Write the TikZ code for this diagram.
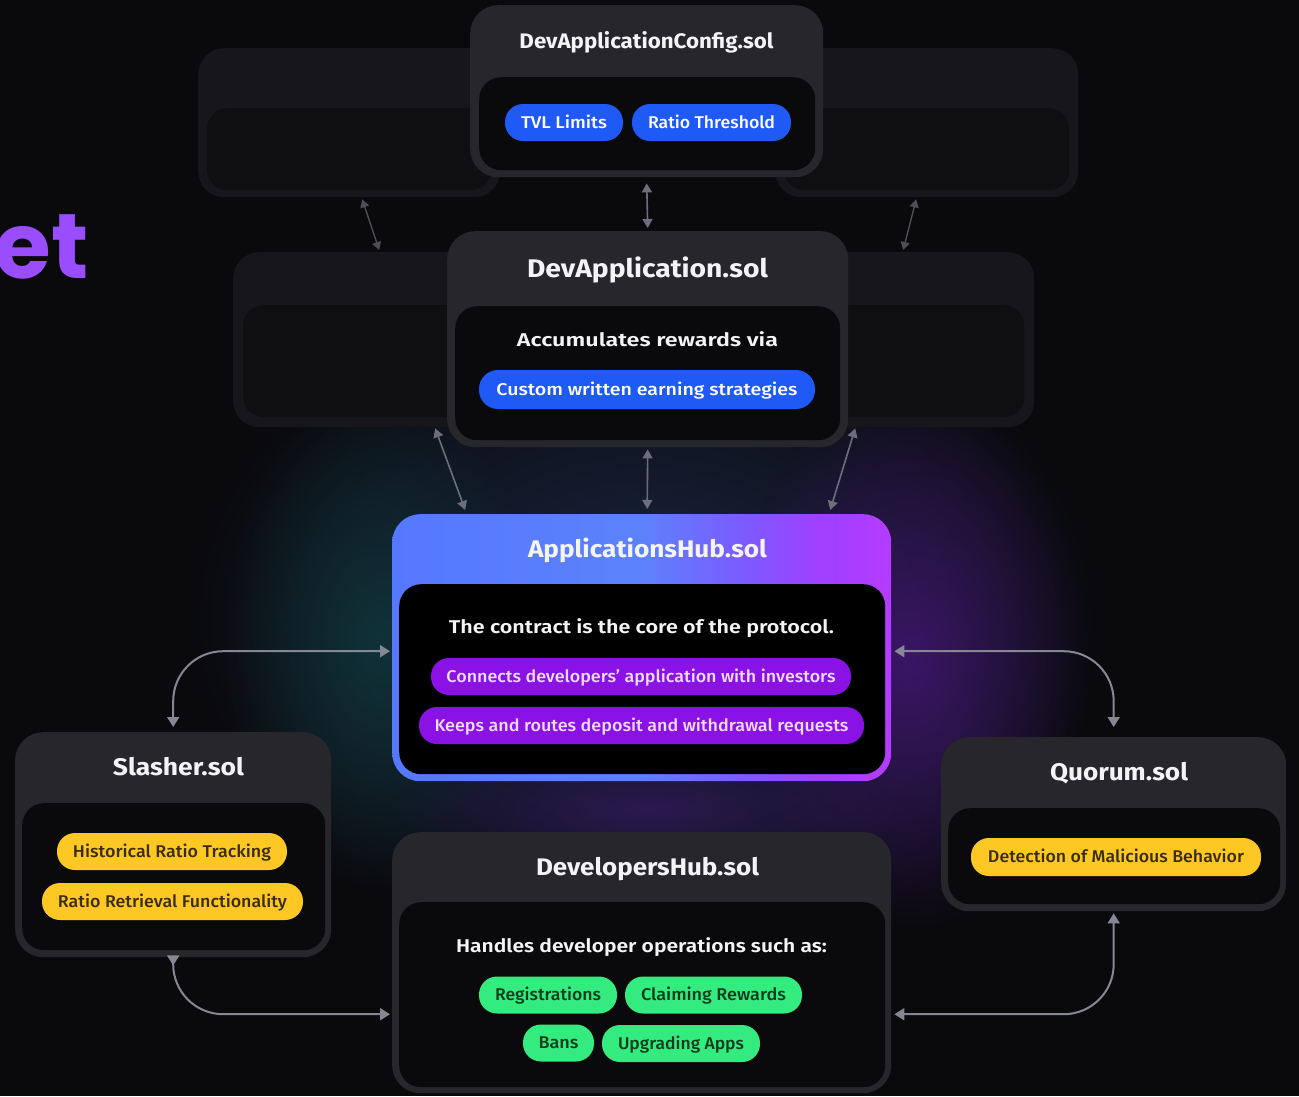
\documentclass[tikz,border=0pt]{standalone}
\usepackage{fontspec}
\setmainfont{Fira Sans}
\newfontfamily\titlefont{Fira Sans Bold}
\newfontfamily\semifont{Fira Sans SemiBold}
\newfontfamily\medfont{Fira Sans Medium}
\newfontfamily\bigfont{Poppins}
\usetikzlibrary{arrows.meta,fadings}

\definecolor{bg}{HTML}{0A0A0D}
\definecolor{cardhead}{HTML}{26262B}
\definecolor{cardbody}{HTML}{0A0A0C}
\definecolor{ghosthead}{HTML}{17171B}
\definecolor{ghostbody}{HTML}{0F0F12}
\definecolor{pillblue}{HTML}{1F5AF6}
\definecolor{pillpurple}{HTML}{8A12E4}
\definecolor{pillyellow}{HTML}{FDC823}
\definecolor{pillgreen}{HTML}{33EB7E}
\definecolor{yellowtext}{HTML}{3A2C05}
\definecolor{greentext}{HTML}{0B3A1C}
\definecolor{purpletext}{HTML}{F3DDFF}
\definecolor{titlewhite}{HTML}{F4F4F6}
\definecolor{arrowc}{HTML}{858894}
\definecolor{dimarrow}{HTML}{4C4E58}
\definecolor{midarrow}{HTML}{6C6F7B}
\definecolor{hubA}{HTML}{5578FF}
\definecolor{hubB}{HTML}{5C82FB}
\definecolor{hubC}{HTML}{7C5BFF}
\definecolor{hubD}{HTML}{A03FFF}
\definecolor{hubE}{HTML}{B43CFF}
\definecolor{etpurple}{HTML}{9A4DFC}
\definecolor{glowblue}{HTML}{1A2540}
\definecolor{glowteal}{HTML}{103238}
\definecolor{glowpurple}{HTML}{3B1566}

\pgfdeclarehorizontalshading{hubgrad}{100bp}{color(0bp)=(hubA); color(25bp)=(hubA); color(50bp)=(hubB); color(60bp)=(hubC); color(68bp)=(hubD); color(75bp)=(hubE); color(100bp)=(hubE)}
\tikzfading[name=glowfade, inner color=transparent!0, outer color=transparent!100]

\newcommand\fitw[2]{\resizebox{#1pt}{\height}{#2}}

\tikzset{
  card/.style={fill=cardhead, rounded corners=28pt, inner sep=0pt, anchor=north west},
  cbody/.style={fill=cardbody, rounded corners=22pt, inner sep=0pt, anchor=north west},
  ghost/.style={fill=ghosthead, rounded corners=26pt, inner sep=0pt, anchor=north west},
  gbody/.style={fill=ghostbody, rounded corners=20pt, inner sep=0pt, anchor=north west},
  titletext/.style={inner sep=0pt, text=titlewhite, text height=16.5pt, text depth=0pt, font=\titlefont\fontsize{24}{28}\selectfont},
  bodytext/.style={inner sep=0pt, text=titlewhite, text height=12.8pt, text depth=0pt, font=\semifont\fontsize{18.5}{22}\selectfont},
  pill/.style={inner sep=0pt, minimum height=37pt, rounded corners=18pt, text height=11.7pt, text depth=0pt, font=\medfont\fontsize{17}{20}\selectfont},
  bluepill/.style={pill, fill=pillblue, text=white},
  purplepill/.style={pill, fill=pillpurple, text=purpletext},
  yellowpill/.style={pill, fill=pillyellow, text=yellowtext},
  greenpill/.style={pill, fill=pillgreen, text=greentext},
  conn/.style={draw=arrowc, line width=2pt, {Triangle[length=10pt,width=12pt]}-{Triangle[length=10pt,width=12pt]}},
  midconn/.style={draw=midarrow, line width=1.6pt, {Triangle[length=9pt,width=10pt]}-{Triangle[length=9pt,width=10pt]}},
  dimconn/.style={draw=dimarrow, line width=1.4pt, {Triangle[length=8pt,width=9pt]}-{Triangle[length=8pt,width=9pt]}}
}

\begin{document}
\begin{tikzpicture}[x=1pt,y=-1pt]
\useasboundingbox (0,0) rectangle (1299,1096);
\fill[bg] (0,0) rectangle (1299,1096);

% glows
\fill[glowblue, path fading=glowfade] (645,620) ellipse [x radius=460pt, y radius=340pt];
\fill[glowteal, path fading=glowfade] (380,640) ellipse [x radius=160pt, y radius=250pt];
\fill[glowpurple, path fading=glowfade] (910,660) ellipse [x radius=180pt, y radius=270pt];
\fill[glowpurple!70!glowblue, path fading=glowfade, fill opacity=0.8] (650,810) ellipse [x radius=260pt, y radius=70pt];

% partial heading
\node[anchor=base east, inner sep=0pt, text=etpurple, font=\bigfont\bfseries\fontsize{92}{92}\selectfont] (et) at (89,278) {et};

% ghost cards
\node[ghost, minimum width=302pt, minimum height=149pt] (ghostTL) at (198,48) {};
\node[gbody, minimum width=284pt, minimum height=82pt] (ghostTLb) at (207,108) {};
\node[ghost, minimum width=303pt, minimum height=149pt] (ghostTR) at (775,48) {};
\node[gbody, minimum width=285pt, minimum height=82pt] (ghostTRb) at (784,108) {};
\node[ghost, minimum width=287pt, minimum height=175pt] (ghostML) at (233,252) {};
\node[gbody, minimum width=267pt, minimum height=112pt] (ghostMLb) at (243,305) {};
\node[ghost, minimum width=259pt, minimum height=175pt] (ghostMR) at (775,252) {};
\node[gbody, minimum width=239pt, minimum height=112pt] (ghostMRb) at (785,305) {};

% DevApplicationConfig
\node[card, minimum width=353pt, minimum height=172pt] (cfg) at (470,5) {};
\node[cbody, minimum width=336pt, minimum height=93pt] (cfgbody) at (479,77) {};
\node[titletext, text height=14.5pt, font=\titlefont\fontsize{21}{24}\selectfont] (cfgtitle) at (646.5,41) {\fitw{254}{DevApplicationConfig.sol}};
\node[bluepill, minimum width=118pt] (tvl) at (564,122.5) {\fitw{86}{TVL Limits}};
\node[bluepill, minimum width=159pt] (ratio) at (711.5,122.5) {\fitw{127}{Ratio Threshold}};

% DevApplication
\node[card, minimum width=401pt, minimum height=216pt] (devapp) at (447,231) {};
\node[cbody, minimum width=385pt, minimum height=134pt] (devappbody) at (455,306) {};
\node[titletext, text height=17.5pt, font=\titlefont\fontsize{25.5}{28}\selectfont] (devapptitle) at (647.5,269) {\fitw{241}{DevApplication.sol}};
\node[bodytext] (accum) at (647.5,340) {\fitw{261}{Accumulates rewards via}};
\node[bluepill, minimum width=336pt, minimum height=39pt, rounded corners=19pt] (custom) at (647,389.5) {\fitw{301}{Custom written earning strategies}};

% ApplicationsHub
\node[anchor=north west, inner sep=0pt, rounded corners=28pt, shading=hubgrad, minimum width=499pt, minimum height=267pt] (hub) at (392,514) {};
\node[cbody, fill=black!95!bg, minimum width=486pt, minimum height=190pt] (hubbody) at (399,584) {};
\node[titletext] (hubtitle) at (647.5,549) {\fitw{239}{ApplicationsHub.sol}};
\node[bodytext] (contract) at (641.5,627) {\fitw{385}{The contract is the core of the protocol.}};
\node[purplepill, minimum width=420pt] (connects) at (641,676.5) {\fitw{389}{Connects developers’ application with investors}};
\node[purplepill, minimum width=445pt] (keeps) at (641.5,725.5) {\fitw{414}{Keeps and routes deposit and withdrawal requests}};

% Slasher
\node[card, minimum width=316pt, minimum height=225pt] (slasher) at (15,732) {};
\node[cbody, minimum width=303pt, minimum height=147pt] (slasherbody) at (22,803) {};
\node[titletext] (slashertitle) at (178.5,767) {\fitw{131}{Slasher.sol}};
\node[yellowpill, minimum width=230pt] (hist) at (172,851.5) {\fitw{198}{Historical Ratio Tracking}};
\node[yellowpill, minimum width=261pt] (retr) at (172.5,901.5) {\fitw{229}{Ratio Retrieval Functionality}};

% Quorum
\node[card, minimum width=345pt, minimum height=174pt] (quorum) at (941,737) {};
\node[cbody, minimum width=332pt, minimum height=96pt] (quorumbody) at (948,808) {};
\node[titletext] (quorumtitle) at (1119,772) {\fitw{138}{Quorum.sol}};
\node[yellowpill, minimum width=290pt, minimum height=38pt] (detect) at (1116,857) {\fitw{256}{Detection of Malicious Behavior}};

% DevelopersHub
\node[card, minimum width=499pt, minimum height=261pt] (devhub) at (392,832) {};
\node[cbody, minimum width=486pt, minimum height=185pt] (devhubbody) at (399,902) {};
\node[titletext] (devhubtitle) at (647.5,867) {\fitw{223}{DevelopersHub.sol}};
\node[bodytext] (handles) at (641.5,946) {\fitw{371}{Handles developer operations such as:}};
\node[greenpill, minimum width=138pt] (reg) at (548,995) {\fitw{106}{Registrations}};
\node[greenpill, minimum width=177pt] (claim) at (713.5,995) {\fitw{145}{Claiming Rewards}};
\node[greenpill, minimum width=71pt] (bans) at (558.5,1043) {\fitw{40}{Bans}};
\node[greenpill, minimum width=158pt] (upg) at (681,1043.5) {\fitw{126}{Upgrading Apps}};

% connectors: top stack
\draw[midconn] ([yshift=-6pt]cfg.south) -- ([yshift=3pt]devapp.north);
\draw[dimconn] ([xshift=13pt,yshift=-2pt]ghostTL.south) -- ([xshift=2.5pt,yshift=2pt]ghostML.north);
\draw[dimconn] ([xshift=-10.5pt,yshift=-2pt]ghostTR.south) -- ([xshift=-1.5pt,yshift=2pt]ghostMR.north);
\draw[midconn] ([yshift=-2pt]devapp.south) -- ([xshift=5.5pt,yshift=5pt]hub.north);
\draw[midconn] ([xshift=58.5pt,yshift=-1pt]ghostML.south) -- ([xshift=-176.5pt,yshift=4pt]hub.north);
\draw[midconn] ([xshift=-49.5pt,yshift=-1pt]ghostMR.south) -- ([xshift=188.5pt,yshift=4pt]hub.north);

% connectors: side modules
\draw[conn, rounded corners=50pt] ([yshift=5pt]slasher.north) |- ([xshift=-2pt,yshift=-3.5pt]hub.west);
\draw[conn, rounded corners=50pt] ([yshift=10pt]quorum.north) |- ([xshift=3pt,yshift=-3.5pt]hub.east);
\draw[conn, rounded corners=50pt] ([yshift=-8pt]slasher.south) |- ([xshift=-2pt,yshift=-51.5pt]devhub.west);
\draw[conn, rounded corners=50pt] ([yshift=-2pt]quorum.south) |- ([xshift=3pt,yshift=-51.5pt]devhub.east);
\end{tikzpicture}
\end{document}
